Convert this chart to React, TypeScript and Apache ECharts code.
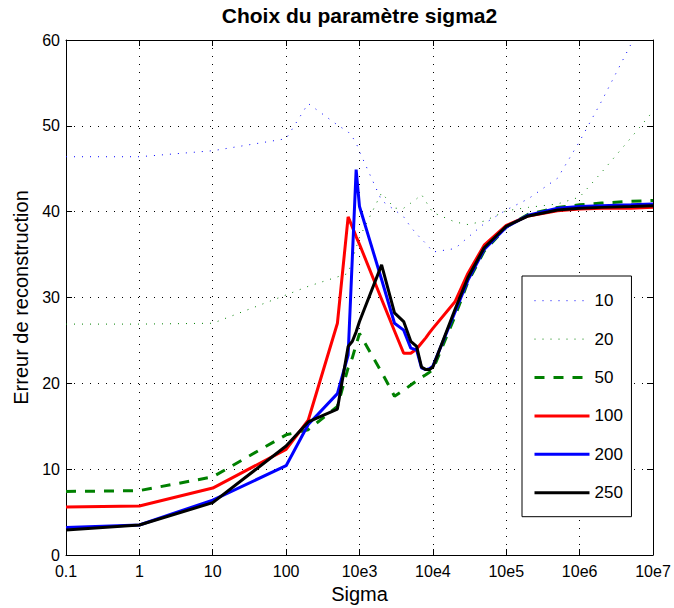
import React, { useEffect, useRef } from "react";
import * as echarts from "echarts";

// Sigma values (x) shared by all series
const sigma = [
  0.1, 1, 10, 100, 200, 500, 700, 800, 900, 1000, 2000, 3000, 4000, 5000, 6000,
  7000, 8000, 9000, 1e4, 2e4, 3e4, 5e4, 1e5, 2e5, 5e5, 1e6, 2e6, 5e6, 1e7,
];

// Reconstruction error for each sigma2 value
const err10 = [
  46.4, 46.4, 47.1, 48.5, 52.6, 50.1, 49.3, 48.7, 48.0, 47.0, 41.3, 40.2, 39.4, 38.2, 37.4,
  36.8, 36.3, 35.8, 35.3, 35.7, 37.0, 38.6, 40.2, 41.5, 43.9, 48.2, 52.9, 59.5, 64.5,
];
const err20 = [
  26.9, 26.9, 27.0, 30.3, 31.3, 32.4, 32.8, 34.4, 35.8, 37.0, 42.2, 40.4, 40.4, 41.0, 41.5,
  42.0, 41.2, 40.5, 39.9, 38.8, 38.5, 38.9, 40.1, 40.5, 40.9, 41.7, 44.6, 48.6, 51.7,
];
const err50 = [
  7.4, 7.5, 9.1, 14.0, 14.6, 17.3, 21.8, 23.0, 24.5, 25.8, 21.3, 18.5, 19.2, 19.8, 20.3,
  20.7, 21.0, 21.3, 21.6, 27.8, 31.8, 35.4, 38.2, 39.7, 40.5, 40.8, 41.0, 41.2, 41.3,
];
const err100 = [
  5.6, 5.7, 7.8, 12.3, 15.7, 27.0, 39.4, 38.2, 37.1, 36.2, 29.8, 26.1, 23.5, 23.5, 24.0,
  24.7, 25.3, 25.9, 26.4, 29.5, 32.8, 36.1, 38.4, 39.5, 40.1, 40.3, 40.4, 40.4, 40.5,
];
const err200 = [
  3.2, 3.5, 6.4, 10.4, 15.2, 18.8, 23.3, 34.8, 44.9, 40.6, 32.1, 27.0, 26.2, 24.1, 23.9,
  21.8, 21.6, 21.7, 22.0, 28.3, 32.0, 35.6, 38.2, 39.6, 40.4, 40.6, 40.7, 40.8, 40.9,
];
const err250 = [
  2.9, 3.5, 6.1, 12.7, 15.5, 17.0, 24.3, 24.9, 26.0, 27.2, 33.8, 28.2, 27.2, 24.9, 24.3,
  21.9, 21.6, 21.6, 21.9, 28.6, 32.3, 35.8, 38.3, 39.5, 40.2, 40.4, 40.5, 40.6, 40.7,
];

const seriesNames = ["10", "20", "50", "100", "200", "250"];
const xTickLabels = ["0.1", "1", "10", "100", "10e3", "10e4", "10e5", "10e6", "10e7"];

export default function App() {
  const ref = useRef<HTMLDivElement>(null);

  useEffect(() => {
    if (!ref.current) return;
    const chart = echarts.init(ref.current, null, { renderer: "svg" });
    const font = "Liberation Sans, Arial, Helvetica, sans-serif";
    const lineStyles: any[] = [
      { color: "#0000ff", width: 1, type: [1, 7] },
      { color: "#008000", width: 1, type: [1, 7] },
      { color: "#008000", width: 3, type: [10, 9] },
      { color: "#ff0000", width: 3, type: "solid" },
      { color: "#0000ff", width: 3, type: "solid" },
      { color: "#000000", width: 3, type: "solid" },
    ];
    const values = [err10, err20, err50, err100, err200, err250];
    const labelFor = (v: number) => {
      const e = Math.round(Math.log10(v));
      return xTickLabels[e + 1] ?? "";
    };
    const gridLine = { show: true, lineStyle: { color: "#000", width: 1, type: [1, 7] } };
    const axisLine = { show: true, onZero: false, lineStyle: { color: "#000", width: 1 } };
    const tick = { show: true, inside: true, length: 6, lineStyle: { color: "#000", width: 1 } };

    chart.setOption({
      animation: false,
      backgroundColor: "#fff",
      title: {
        text: "Choix du paramètre sigma2",
        left: 359.5,
        top: 5,
        textAlign: "center",
        padding: 0,
        textStyle: { fontFamily: font, fontSize: 21, fontWeight: "bold", color: "#000" },
      },
      grid: { left: 66, right: 21, top: 40, bottom: 53, containLabel: false, outerBoundsMode: "none" },
      legend: {
        orient: "vertical",
        left: 522,
        top: 276,
        padding: [16.2, 8.6, 15.5, 11],
        itemWidth: 55,
        itemHeight: 14,
        itemGap: 21.4,
        borderColor: "#000",
        borderWidth: 1,
        backgroundColor: "#fff",
        textStyle: { fontFamily: font, fontSize: 17, color: "#000" },
        data: seriesNames.map((n, i) => ({
          name: n,
          itemStyle: { opacity: 0 },
          lineStyle: { color: lineStyles[i].color, width: lineStyles[i].width, type: lineStyles[i].type },
        })),
      },
      xAxis: [
        {
          type: "log",
          logBase: 10,
          min: 0.1,
          max: 1e7,
          position: "bottom",
          axisLine,
          axisTick: tick,
          minorTick: { show: false },
          axisLabel: { formatter: labelFor, color: "#000", fontFamily: font, fontSize: 16, margin: 8 },
          splitLine: gridLine,
          name: "Sigma",
          nameLocation: "middle",
          nameGap: 27,
          nameTextStyle: { fontFamily: font, fontSize: 20, color: "#000" },
        },
        {
          type: "log",
          logBase: 10,
          min: 0.1,
          max: 1e7,
          position: "top",
          axisLine,
          axisTick: tick,
          axisLabel: { show: false },
          splitLine: { show: false },
        },
      ],
      yAxis: [
        {
          type: "value",
          min: 0,
          max: 60,
          interval: 10,
          position: "left",
          axisLine,
          axisTick: tick,
          axisLabel: { color: "#000", fontFamily: font, fontSize: 16, margin: 6, lineHeight: 14 },
          splitLine: gridLine,
          name: "Erreur de reconstruction",
          nameLocation: "middle",
          nameGap: 34,
          nameTextStyle: { fontFamily: font, fontSize: 20, color: "#000" },
        },
        {
          type: "value",
          min: 0,
          max: 60,
          interval: 10,
          position: "right",
          axisLine,
          axisTick: tick,
          axisLabel: { show: false },
          splitLine: { show: false },
        },
      ],
      series: seriesNames.map((n, i) => ({
        name: n,
        type: "line",
        xAxisIndex: 0,
        yAxisIndex: 0,
        showSymbol: false,
        symbol: "none",
        clip: true,
        color: lineStyles[i].color,
        lineStyle: lineStyles[i],
        data: sigma.map((s, k) => [s, values[i][k]]),
        z: 2 + i,
      })),
    });
    return () => chart.dispose();
  }, []);

  return (
    <div
      ref={ref}
      style={{ position: "fixed", left: 0, top: 0, width: 674, height: 608 }}
    />
  );
}
